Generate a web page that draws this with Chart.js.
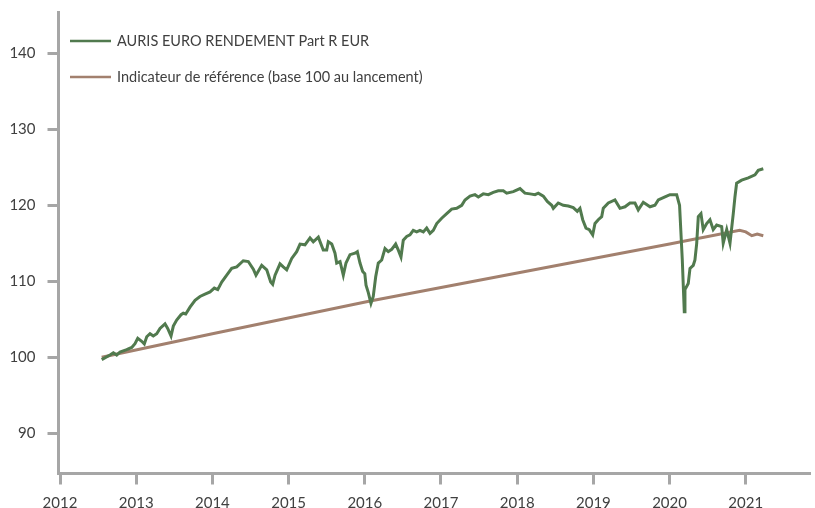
<!DOCTYPE html>
<html>
<head>
<meta charset="utf-8">
<script src="https://cdn.jsdelivr.net/npm/chart.js@4"></script>
<style>
  html, body { margin: 0; padding: 0; background: #fff; }
  #wrap { width: 815px; height: 508px; }
</style>
</head>
<body>
<div id="wrap"><canvas id="chart" width="815" height="508"></canvas></div>
<script>
// Series labels
const fundLabel = 'AURIS EURO RENDEMENT Part R EUR';
const refLabel = 'Indicateur de référence (base 100 au lancement)';

// Fund (decimal year / value)
const fundYears = [
  2012.547, 2012.656, 2012.70, 2012.744, 2012.787, 2012.875, 2012.941, 2012.984,
  2013.02, 2013.072, 2013.106, 2013.138, 2013.181, 2013.224, 2013.269, 2013.312,
  2013.378, 2013.413, 2013.457, 2013.487, 2013.531, 2013.588, 2013.618, 2013.65,
  2013.706, 2013.772, 2013.837, 2013.903, 2013.969, 2014.025, 2014.07, 2014.122,
  2014.188, 2014.253, 2014.319, 2014.405, 2014.471, 2014.537, 2014.572, 2014.647,
  2014.713, 2014.765, 2014.791, 2014.822, 2014.887, 2014.93, 2014.975, 2015.041,
  2015.106, 2015.15, 2015.215, 2015.281, 2015.324, 2015.39, 2015.455, 2015.5,
  2015.521, 2015.566, 2015.609, 2015.631, 2015.675, 2015.718, 2015.753, 2015.806,
  2015.871, 2015.902, 2015.937, 2015.972, 2016.0, 2016.016, 2016.046, 2016.081,
  2016.111, 2016.143, 2016.177, 2016.222, 2016.265, 2016.308, 2016.353, 2016.405,
  2016.44, 2016.475, 2016.505, 2016.55, 2016.593, 2016.636, 2016.681, 2016.724,
  2016.768, 2016.812, 2016.856, 2016.899, 2016.944, 2017.009, 2017.075, 2017.14,
  2017.206, 2017.272, 2017.315, 2017.381, 2017.446, 2017.49, 2017.555, 2017.621,
  2017.686, 2017.752, 2017.818, 2017.862, 2017.949, 2018.037, 2018.102, 2018.168,
  2018.234, 2018.277, 2018.343, 2018.395, 2018.453, 2018.474, 2018.539, 2018.605,
  2018.671, 2018.736, 2018.789, 2018.824, 2018.86, 2018.903, 2018.946, 2018.991,
  2019.021, 2019.064, 2019.109, 2019.13, 2019.196, 2019.283, 2019.349, 2019.415,
  2019.48, 2019.546, 2019.589, 2019.655, 2019.743, 2019.808, 2019.852, 2019.94,
  2020.005, 2020.093, 2020.131, 2020.167, 2020.193, 2020.202, 2020.245, 2020.268,
  2020.311, 2020.333, 2020.356, 2020.377, 2020.412, 2020.442, 2020.487, 2020.53,
  2020.573, 2020.618, 2020.684, 2020.704, 2020.75, 2020.793, 2020.836, 2020.858,
  2020.88, 2020.946, 2021.033, 2021.121, 2021.164, 2021.23
];
const fundValues = [
  99.7, 100.3, 100.6, 100.3, 100.7, 101.0, 101.3, 101.8,
  102.5, 102.1, 101.75, 102.7, 103.1, 102.8, 103.1, 103.8,
  104.4, 103.8, 102.8, 104.1, 104.9, 105.6, 105.8, 105.7,
  106.6, 107.5, 108.0, 108.3, 108.6, 109.1, 108.9, 109.9,
  110.8, 111.7, 111.9, 112.7, 112.6, 111.6, 110.8, 112.1,
  111.5, 109.9, 109.6, 110.8, 112.3, 111.9, 111.5, 113.0,
  113.9, 114.9, 114.8, 115.7, 115.2, 115.8, 114.1, 114.1,
  115.2, 114.9, 113.7, 112.4, 112.6, 110.8, 112.4, 113.5,
  113.7, 113.9, 112.4, 111.3, 111.0, 109.5, 108.5, 107.1,
  108.0, 110.6, 112.4, 112.8, 114.3, 113.9, 114.2, 114.9,
  114.1, 113.2, 115.4, 115.9, 116.1, 116.7, 116.5, 116.7,
  116.5, 117.0, 116.3, 116.7, 117.6, 118.3, 118.9, 119.5,
  119.6, 120.0, 120.7, 121.2, 121.4, 121.1, 121.5, 121.4,
  121.7, 121.9, 121.9, 121.6, 121.8, 122.2, 121.6, 121.5,
  121.4, 121.6, 121.2, 120.5, 120.0, 119.6, 120.3, 120.0,
  119.9, 119.7, 119.2, 119.6, 118.1, 117.0, 116.8, 116.1,
  117.6, 118.1, 118.5, 119.6, 120.3, 120.7, 119.6, 119.8,
  120.3, 120.3, 119.4, 120.4, 119.8, 120.0, 120.7, 121.1,
  121.4, 121.4, 120.0, 112.8, 106.0, 108.9, 109.7, 111.7,
  112.1, 112.8, 115.0, 118.5, 118.9, 116.8, 117.6, 118.1,
  116.8, 117.4, 117.2, 115.0, 116.8, 115.0, 118.9, 121.1,
  122.9, 123.3, 123.6, 124.0, 124.6, 124.8
];

// Benchmark
const refYears = [2012.547, 2014.0, 2016.07, 2018.69, 2020.0, 2020.92, 2021.0, 2021.08, 2021.15, 2021.23];
const refValues = [100.0, 103.1, 107.4, 112.4, 114.9, 116.7, 116.5, 116.0, 116.2, 116.0];

// Axis ticks
const yearTicks = [2012, 2013, 2014, 2015, 2016, 2017, 2018, 2019, 2020, 2021];
const valueTicks = [90, 100, 110, 120, 130, 140];

const green = '#517a4e';
const brown = '#a2806e';
const axisGray = '#a6a6a6';
const textColor = '#404040';
const fontFamily = 'Lato, "Open Sans", sans-serif';

// Legend drawn inside the plot, top left
const insideLegend = {
    id: 'insideLegend',
    afterDraw(chart) {
        const ctx = chart.ctx;
        ctx.save();
        ctx.font = '14.5px ' + fontFamily;
        ctx.textBaseline = 'middle';
        chart.data.datasets.forEach((ds, i) => {
            const y = 41 + i * 36;
            ctx.strokeStyle = ds.borderColor;
            ctx.lineWidth = 2.5;
            ctx.beginPath();
            ctx.moveTo(70, y);
            ctx.lineTo(111, y);
            ctx.stroke();
            ctx.fillStyle = textColor;
            ctx.fillText(ds.label, 117, y);
        });
        ctx.restore();
    }
};

const ctx = document.getElementById('chart').getContext('2d');
new Chart(ctx, {
    type: 'line',
    data: {
        datasets: [{
            label: fundLabel,
            data: fundYears.map((x, i) => ({ x: x, y: fundValues[i] })),
            borderColor: green,
            borderWidth: 3,
            pointRadius: 0,
            tension: 0
        }, {
            label: refLabel,
            data: refYears.map((x, i) => ({ x: x, y: refValues[i] })),
            borderColor: brown,
            borderWidth: 3,
            pointRadius: 0,
            tension: 0
        }]
    },
    options: {
        responsive: false,
        animation: false,
        layout: { padding: { top: 12, right: 5, left: 0, bottom: 0 } },
        plugins: {
            legend: { display: false },
            tooltip: { enabled: false }
        },
        scales: {
            x: {
                type: 'linear',
                min: 2011.98,
                max: 2021.843,
                afterFit: scale => {
                    scale.height = 34.5;
                    scale.paddingLeft = 0;
                    scale.paddingRight = 0;
                },
                afterBuildTicks: scale => { scale.ticks = yearTicks.map(v => ({ value: v })); },
                border: { display: true, color: axisGray, width: 3 },
                grid: { drawOnChartArea: false, drawTicks: true, tickLength: 11, tickWidth: 3, tickColor: axisGray },
                ticks: {
                    color: textColor,
                    font: { family: fontFamily, size: 15 },
                    padding: 10,
                    maxRotation: 0,
                    callback: v => String(v)
                }
            },
            y: {
                min: 84.71,
                max: 145.43,
                afterFit: scale => {
                    scale.width = 58.5;
                    scale.paddingTop = 0;
                    scale.paddingBottom = 0;
                },
                afterBuildTicks: scale => { scale.ticks = valueTicks.map(v => ({ value: v })); },
                border: { display: true, color: axisGray, width: 3 },
                grid: { drawOnChartArea: false, drawTicks: true, tickLength: 11, tickWidth: 3, tickColor: axisGray },
                ticks: {
                    color: textColor,
                    font: { family: fontFamily, size: 15 },
                    padding: 12,
                    callback: v => String(v)
                }
            }
        }
    },
    plugins: [insideLegend]
});
</script>
</body>
</html>
